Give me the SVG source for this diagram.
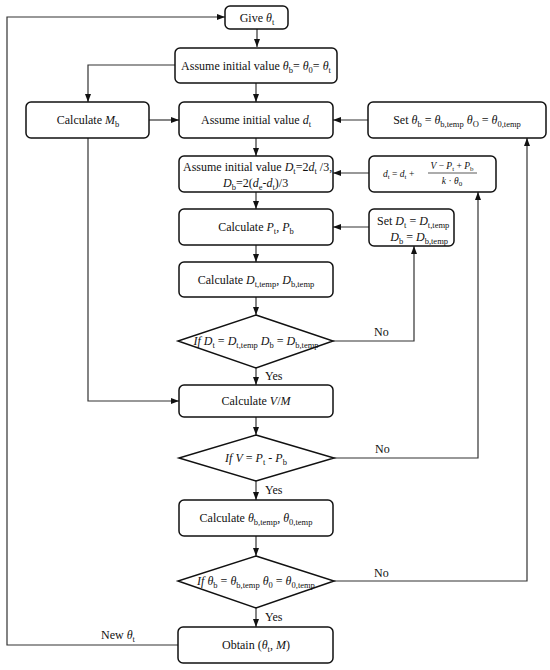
<svg xmlns="http://www.w3.org/2000/svg" width="550" height="670" viewBox="0 0 550 670" font-family="Liberation Serif, serif">
<defs>
<marker id="ah" markerWidth="9" markerHeight="7" refX="8" refY="3" orient="auto" markerUnits="userSpaceOnUse"><path d="M0,0 L8,3 L0,6 z" fill="#111"/></marker>
<style>
.box{fill:#fff;stroke:#111;stroke-width:1.5}
.dia{fill:#fff;stroke:#111;stroke-width:1.5}
.c{fill:none;stroke:#333;stroke-width:1.2;marker-end:url(#ah)}
text{font-family:"Liberation Serif",serif;font-size:12px;fill:#111}
.m{text-anchor:middle}
.i{font-style:italic}
.s{font-size:8.5px;font-style:normal}
.f{font-size:9.5px}
.fs{font-size:7px;font-style:normal}
</style>
</defs>
<rect width="550" height="670" fill="#fff"/>
<g id="connectors">
<path class="c" d="M178,645 H7 V17 H225"/>
<path class="c" d="M257,29 V47"/>
<path class="c" d="M256,83 V102"/>
<path class="c" d="M175,65 H88 V102"/>
<path class="c" d="M149,120 H179"/>
<path class="c" d="M88,138 V401 H179"/>
<path class="c" d="M368,120 H333"/>
<path class="c" d="M256,138 V156"/>
<path class="c" d="M369,173 H333"/>
<path class="c" d="M256,192 V209"/>
<path class="c" d="M369,227 H333"/>
<path class="c" d="M256,245 V262"/>
<path class="c" d="M256,297 V315"/>
<path class="c" d="M333,341 H414 V246"/>
<path class="c" d="M256,368 V385"/>
<path class="c" d="M256,417 V435"/>
<path class="c" d="M334,458 H478 V192"/>
<path class="c" d="M256,481 V500"/>
<path class="c" d="M256,536 V556"/>
<path class="c" d="M334,581 H527 V138"/>
<path class="c" d="M256,608 V627"/>
<text x="374" y="336">No</text>
<text x="375" y="453">No</text>
<text x="374" y="577">No</text>
<text x="265" y="380">Yes</text>
<text x="265" y="494">Yes</text>
<text x="265" y="621">Yes</text>
<text x="101" y="639">New <tspan class="i">θ</tspan><tspan class="s" dy="3">t</tspan></text>
</g>
<g id="give">
<rect class="box" x="225" y="6" width="63" height="23" rx="5"/>
<text class="m" x="257" y="22">Give <tspan class="i">θ</tspan><tspan class="s" dy="3">t</tspan></text>
</g>
<g id="assume-theta">
<rect class="box" x="175" y="48" width="162" height="35" rx="5"/>
<text class="m" x="256" y="70">Assume initial value <tspan class="i">θ</tspan><tspan class="s" dy="3">b</tspan><tspan dy="-3">= </tspan><tspan class="i">θ</tspan><tspan class="s" dy="3">0</tspan><tspan dy="-3">= </tspan><tspan class="i">θ</tspan><tspan class="s" dy="3">t</tspan></text>
</g>
<g id="calc-mb">
<rect class="box" x="26" y="102" width="123" height="36" rx="5"/>
<text class="m" x="88" y="124">Calculate <tspan class="i">M</tspan><tspan class="s" dy="3">b</tspan></text>
</g>
<g id="assume-dt">
<rect class="box" x="179" y="102" width="154" height="36" rx="5"/>
<text class="m" x="256" y="124">Assume initial value <tspan class="i">d</tspan><tspan class="s" dy="3">t</tspan></text>
</g>
<g id="set-theta">
<rect class="box" x="368" y="102" width="178" height="36" rx="5"/>
<text class="m" x="457" y="124">Set <tspan class="i">θ</tspan><tspan class="s" dy="3">b</tspan><tspan dy="-3"> = </tspan><tspan class="i">θ</tspan><tspan class="s" dy="3">b,temp</tspan><tspan dy="-3"> </tspan><tspan class="i">θ</tspan><tspan class="s" dy="3">O</tspan><tspan dy="-3"> = </tspan><tspan class="i">θ</tspan><tspan class="s" dy="3">0,temp</tspan></text>
</g>
<g id="assume-D">
<rect class="box" x="179" y="156" width="154" height="36" rx="5"/>
<text x="183" y="171">Assume initial value <tspan class="i">D</tspan><tspan class="s" dy="3">t</tspan><tspan dy="-3">=2</tspan><tspan class="i">d</tspan><tspan class="s" dy="3">t</tspan><tspan dy="-3"> /3,</tspan></text>
<text x="223" y="187"><tspan class="i">D</tspan><tspan class="s" dy="3">b</tspan><tspan dy="-3">=2(</tspan><tspan class="i">d</tspan><tspan class="s" dy="3">e</tspan><tspan dy="-3">-</tspan><tspan class="i">d</tspan><tspan class="s" dy="3">t</tspan><tspan dy="-3">)/3</tspan></text>
</g>
<g id="update-dt">
<rect class="box" x="369" y="156" width="127" height="36" rx="5"/>
<text class="f" x="383" y="177"><tspan class="i">d</tspan><tspan class="fs" dy="2">t</tspan><tspan dy="-2"> = </tspan><tspan class="i">d</tspan><tspan class="fs" dy="2">t</tspan><tspan dy="-2"> +</tspan></text>
<text class="f m" x="452" y="169"><tspan class="i">V</tspan> − <tspan class="i">P</tspan><tspan class="fs" dy="2">t</tspan><tspan dy="-2"> + </tspan><tspan class="i">P</tspan><tspan class="fs" dy="2">b</tspan></text>
<line x1="428" y1="173" x2="477" y2="173" stroke="#111" stroke-width="0.7"/>
<text class="f m" x="452" y="184"><tspan class="i">k</tspan> · <tspan class="i">θ</tspan><tspan class="fs" dy="2">0</tspan></text>
</g>
<g id="calc-p">
<rect class="box" x="179" y="209" width="154" height="36" rx="5"/>
<text class="m" x="256" y="231">Calculate <tspan class="i">P</tspan><tspan class="s" dy="3">t</tspan><tspan dy="-3">, </tspan><tspan class="i">P</tspan><tspan class="s" dy="3">b</tspan></text>
</g>
<g id="set-D">
<rect class="box" x="369" y="209" width="85" height="37" rx="5"/>
<text x="377" y="225">Set <tspan class="i">D</tspan><tspan class="s" dy="3">t</tspan><tspan dy="-3"> = </tspan><tspan class="i">D</tspan><tspan class="s" dy="3">t,temp</tspan></text>
<text x="448" y="241" text-anchor="end"><tspan class="i">D</tspan><tspan class="s" dy="3">b</tspan><tspan dy="-3"> = </tspan><tspan class="i">D</tspan><tspan class="s" dy="3">b,temp</tspan></text>
</g>
<g id="calc-Dtemp">
<rect class="box" x="179" y="262" width="154" height="35" rx="5"/>
<text class="m" x="256" y="284">Calculate <tspan class="i">D</tspan><tspan class="s" dy="3">t,temp</tspan><tspan dy="-3">, </tspan><tspan class="i">D</tspan><tspan class="s" dy="3">b,temp</tspan></text>
</g>
<g id="if-D">
<polygon class="dia" points="256,315 333,341 256,368 178,341"/>
<text class="m" x="256" y="345"><tspan class="i">If D</tspan><tspan class="s" dy="3">t</tspan><tspan dy="-3"> = </tspan><tspan class="i">D</tspan><tspan class="s" dy="3">t,temp</tspan><tspan dy="-3"> </tspan><tspan class="i">D</tspan><tspan class="s" dy="3">b</tspan><tspan dy="-3"> = </tspan><tspan class="i">D</tspan><tspan class="s" dy="3">b,temp</tspan></text>
</g>
<g id="calc-VM">
<rect class="box" x="179" y="385" width="154" height="32" rx="5"/>
<text class="m" x="256" y="405">Calculate <tspan class="i">V</tspan>/<tspan class="i">M</tspan></text>
</g>
<g id="if-V">
<polygon class="dia" points="256,435 334,458 256,481 179,458"/>
<text class="m" x="256" y="462"><tspan class="i">If V</tspan> = <tspan class="i">P</tspan><tspan class="s" dy="3">t</tspan><tspan dy="-3"> - </tspan><tspan class="i">P</tspan><tspan class="s" dy="3">b</tspan></text>
</g>
<g id="calc-theta">
<rect class="box" x="179" y="500" width="154" height="36" rx="5"/>
<text class="m" x="256" y="522">Calculate <tspan class="i">θ</tspan><tspan class="s" dy="3">b,temp</tspan><tspan dy="-3">, </tspan><tspan class="i">θ</tspan><tspan class="s" dy="3">0,temp</tspan></text>
</g>
<g id="if-theta">
<polygon class="dia" points="256,556 334,581 256,608 178,581"/>
<text class="m" x="256" y="585"><tspan class="i">If θ</tspan><tspan class="s" dy="3">b</tspan><tspan dy="-3"> = </tspan><tspan class="i">θ</tspan><tspan class="s" dy="3">b,temp</tspan><tspan dy="-3"> </tspan><tspan class="i">θ</tspan><tspan class="s" dy="3">0</tspan><tspan dy="-3"> = </tspan><tspan class="i">θ</tspan><tspan class="s" dy="3">0,temp</tspan></text>
</g>
<g id="obtain">
<rect class="box" x="178" y="627" width="155" height="36" rx="5"/>
<text class="m" x="256" y="649">Obtain (<tspan class="i">θ</tspan><tspan class="s" dy="3">t</tspan><tspan dy="-3">, </tspan><tspan class="i">M</tspan>)</text>
</g>
</svg>
